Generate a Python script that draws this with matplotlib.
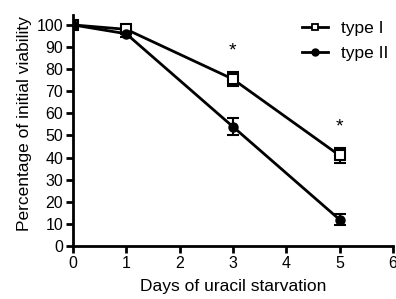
import matplotlib
matplotlib.use("Agg")
from matplotlib import pyplot as plt
from matplotlib.lines import Line2D

days = [0, 1, 3, 5]
type1 = [100, 98, 75.5, 41]
type1_err = [0, 1.5, 3, 3.5]
type2 = [100, 96, 54, 12]
type2_err = [0, 1.5, 4, 2.5]
star_x = [3, 5]
star_y = [88, 54]

plt.rcParams["font.family"] = ["Liberation Sans", "DejaVu Sans"]
plt.rcParams["font.size"] = 12

fig = plt.figure(figsize=(3.96, 2.99), dpi=100)
ax = fig.add_axes([0.184, 0.177, 0.808, 0.773])

ax.errorbar(days, type1, yerr=type1_err, color="black", lw=2, marker="s",
            markersize=7, markerfacecolor="white", markeredgewidth=1.5,
            capsize=4, capthick=1.5, elinewidth=1.5)
ax.errorbar(days, type2, yerr=type2_err, color="black", lw=2, marker="o",
            markersize=6.5, capsize=4, capthick=1.5, elinewidth=1.5)

for x, y in zip(star_x, star_y):
    ax.text(x, y, "*", ha="center", va="center", fontsize=14)

ax.set_xlim(0, 6)
ax.set_ylim(0, 104.5)
ax.set_xticks(range(7))
ax.set_yticks(range(0, 101, 10))
ax.spines["top"].set_visible(False)
ax.spines["right"].set_visible(False)
ax.spines["left"].set_linewidth(2)
ax.spines["bottom"].set_linewidth(2)
ax.tick_params(width=2, length=5, direction="out", pad=2, labelsize=11.5)
for lbl in ax.get_xticklabels() + ax.get_yticklabels():
    lbl.set_clip_on(False)

ax.set_xlabel("Days of uracil starvation", fontsize=12.5, labelpad=6)
ax.set_ylabel("Percentage of initial viability", fontsize=12.5, labelpad=3)
ax.yaxis.label.set_y(0.53)

handles = [
    Line2D([], [], color="black", lw=2, marker="s", markersize=5,
           markerfacecolor="white", markeredgewidth=1.3),
    Line2D([], [], color="black", lw=2, marker="o", markersize=5),
]
ax.legend(handles, ["type I", "type II"], loc="upper left", frameon=False,
          bbox_to_anchor=(0.716, 0.975), borderaxespad=0, borderpad=0,
          handlelength=1.5, handletextpad=0.75, labelspacing=0.6,
          fontsize=12.5)

fig.savefig("out.png", dpi=100)
